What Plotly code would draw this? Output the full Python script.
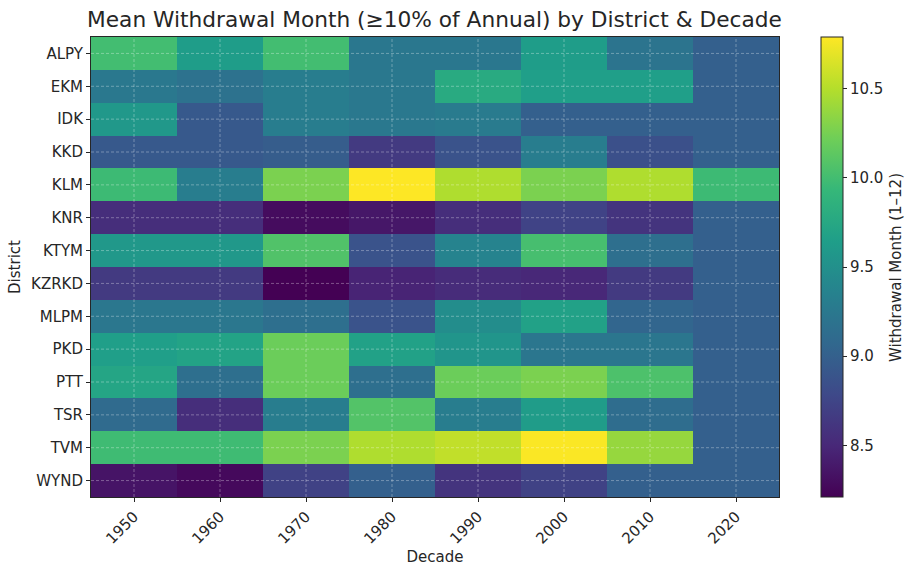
import plotly.graph_objects as go

decades = ["1950", "1960", "1970", "1980", "1990", "2000", "2010", "2020"]
districts = ["ALPY", "EKM", "IDK", "KKD", "KLM", "KNR", "KTYM", "KZRKD",
             "MLPM", "PKD", "PTT", "TSR", "TVM", "WYND"]

ALPY = [10.00, 9.63, 10.00, 9.24, 9.24, 9.63, 9.20, 9.00]
EKM = [9.25, 9.18, 9.30, 9.25, 9.78, 9.65, 9.65, 9.00]
IDK = [9.58, 8.93, 9.30, 9.25, 9.28, 9.00, 9.00, 9.00]
KKD = [8.93, 8.93, 8.97, 8.65, 8.88, 9.30, 8.85, 9.00]
KLM = [9.97, 9.30, 10.27, 10.79, 10.48, 10.27, 10.48, 9.97]
KNR = [8.55, 8.55, 8.29, 8.37, 8.55, 8.73, 8.60, 9.00]
KTYM = [9.58, 9.58, 10.07, 8.88, 9.37, 10.02, 9.15, 9.00]
KZRKD = [8.65, 8.65, 8.21, 8.47, 8.53, 8.50, 8.65, 9.00]
MLPM = [9.23, 9.23, 9.15, 8.88, 9.47, 9.68, 9.05, 9.00]
PKD = [9.65, 9.70, 10.20, 9.68, 9.55, 9.22, 9.22, 9.00]
PTT = [9.72, 9.15, 10.20, 9.15, 10.20, 10.27, 10.05, 9.00]
TSR = [9.10, 8.55, 9.30, 10.08, 9.30, 9.62, 9.12, 9.00]
TVM = [9.98, 9.98, 10.27, 10.48, 10.55, 10.78, 10.38, 9.00]
WYND = [8.35, 8.27, 8.72, 9.00, 8.60, 8.72, 9.00, 9.00]

z = [ALPY, EKM, IDK, KKD, KLM, KNR, KTYM, KZRKD, MLPM, PKD, PTT, TSR, TVM, WYND]

colorbar_ticks = [8.5, 9.0, 9.5, 10.0, 10.5]

FONT = "DejaVu Sans"
TXT = "#262626"
FS = 15
GRID = dict(color="rgba(255,255,255,0.4)", width=0.8, dash="3px,2px")

fig = go.Figure()
fig.add_trace(go.Heatmap(
    z=z, x=decades, y=districts,
    colorscale="Viridis", zmin=8.21, zmax=10.79,
    colorbar=dict(
        tickvals=colorbar_ticks, ticktext=[f"{v:.1f}" for v in colorbar_ticks],
        tickfont=dict(family=FONT, size=FS, color=TXT),
        ticks="outside", ticklen=4, tickcolor=TXT,
        outlinewidth=1, outlinecolor=TXT,
        thickness=22, len=1.0, lenmode="fraction",
        x=1.0608, xanchor="left", y=0.5, yanchor="middle",
        xpad=0, ypad=0,
    ),
))

# dashed grid lines drawn over the cells, at each category's index
shapes = []
for i, _ in enumerate(decades):
    shapes.append(dict(type="line", xref="x", yref="paper", x0=i, x1=i, y0=0, y1=1, line=GRID))
for j, _ in enumerate(districts):
    shapes.append(dict(type="line", xref="paper", yref="y", x0=0, x1=1, y0=j, y1=j, line=GRID))

fig.update_layout(
    width=907, height=566,
    margin=dict(l=91, r=128, t=37, b=69, autoexpand=False),
    paper_bgcolor="white", plot_bgcolor="white",
    font=dict(family=FONT, color=TXT),
    title=dict(text="Mean Withdrawal Month (≥10% of Annual) by District & Decade",
               x=0.479, xanchor="center", y=0.965, yanchor="middle",
               font=dict(family=FONT, size=21.7, color=TXT)),
    shapes=shapes,
    annotations=[dict(text="Withdrawal Month (1–12)", textangle=-90,
                      xref="paper", yref="paper", x=1.17, y=0.5,
                      xanchor="center", yanchor="middle", showarrow=False,
                      font=dict(family=FONT, size=FS, color=TXT))],
)
fig.update_xaxes(
    title=dict(text="Decade", font=dict(family=FONT, size=FS, color=TXT), standoff=0),
    tickangle=-45, tickfont=dict(family=FONT, size=FS, color=TXT),
    ticks="outside", ticklen=4, tickcolor=TXT,
    showline=True, linecolor=TXT, linewidth=1, mirror=True,
    showgrid=False, type="category", automargin=False,
    range=[-0.5, len(decades) - 0.5],
)
fig.update_yaxes(
    title=dict(text="District", font=dict(family=FONT, size=FS, color=TXT), standoff=6),
    tickfont=dict(family=FONT, size=FS, color=TXT),
    ticks="outside", ticklen=4, tickcolor=TXT,
    showline=True, linecolor=TXT, linewidth=1, mirror=True,
    showgrid=False, type="category", automargin=False,
    range=[len(districts) - 0.5, -0.5],
)

fig.write_html("out.html", config={"displayModeBar": False},
               post_script="document.body.style.margin='0';")
